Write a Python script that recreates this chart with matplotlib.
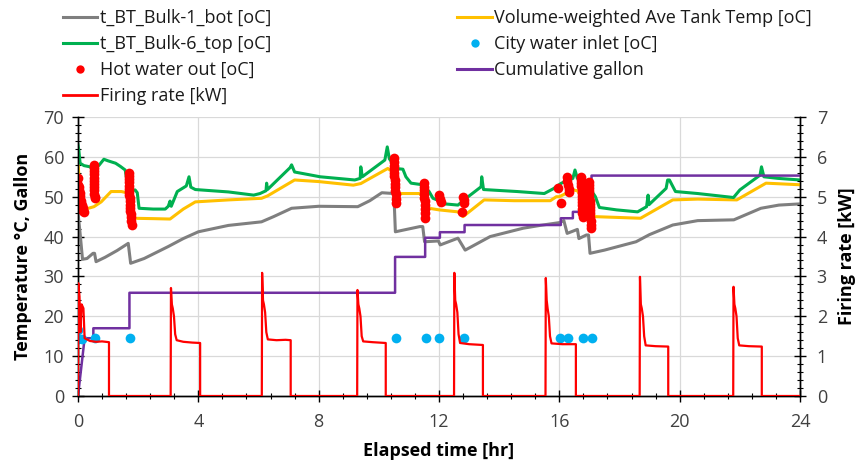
import matplotlib
matplotlib.use("Agg")
import matplotlib.pyplot as plt
from matplotlib.ticker import MultipleLocator
from matplotlib.lines import Line2D

plt.rcParams['font.family'] = ['Open Sans', 'DejaVu Sans']

# Tank bottom temperature (t_BT_Bulk-1_bot)
bot_t = [0, 0.08, 0.15, 0.3, 0.5, 0.55, 0.6, 0.9, 1.3, 1.67, 1.75, 2.2, 3.0, 3.5, 4.0, 5.0, 6.1, 6.5,
         7.1, 8.0, 9.3, 9.7, 10.1, 10.5, 10.55, 11.36, 11.46, 11.52, 11.98, 12.04, 12.63, 12.87, 13.7,
         14.8, 15.36, 16.0, 16.15, 16.26, 16.5, 16.6, 16.65, 16.9, 16.97, 17.02, 17.5, 18.55, 19.0,
         19.77, 20.6, 21.8, 22.7, 23.3, 24.0]
bot_c = [46.0, 40.0, 34.3, 34.5, 35.8, 35.8, 33.7, 34.8, 36.5, 38.3, 33.3, 34.5, 37.5, 39.5, 41.2, 42.8,
         43.7, 45.0, 47.1, 47.6, 47.5, 49.0, 51.0, 50.8, 41.2, 42.5, 42.5, 38.7, 38.9, 37.9, 39.6, 36.6,
         40.0, 42.1, 42.8, 43.5, 44.0, 40.8, 41.5, 41.8, 39.5, 40.4, 40.4, 35.8, 36.6, 38.7, 40.5, 42.9,
         44.0, 44.2, 47.1, 47.9, 48.2]

# Tank top temperature (t_BT_Bulk-6_top)
top_t = [0, 0.03, 0.07, 0.2, 0.4, 0.5, 0.7, 0.86, 1.0, 1.25, 1.41, 1.57, 1.68, 1.9, 1.97, 2.03, 2.5,
         2.9, 3.0, 3.06, 3.1, 3.3, 3.6, 3.69, 3.75, 3.9, 5.0, 5.84, 6.05, 6.25, 6.27, 6.3, 7.05, 7.1,
         7.2, 8.05, 9.2, 9.38, 9.4, 9.45, 10.2, 10.28, 10.35, 10.45, 10.55, 10.8, 10.9, 11.07, 11.45,
         11.67, 11.8, 12.0, 12.05, 12.63, 12.9, 13.4, 13.42, 13.48, 14.6, 15.5, 15.8, 16.07, 16.45,
         16.52, 16.6, 17.13, 17.2, 17.33, 17.9, 18.6, 18.9, 18.95, 18.98, 19.55, 19.6, 19.66, 19.86,
         20.6, 21.79, 22.0, 22.67, 22.72, 22.8, 23.27, 24.0]
top_c = [63.0, 61.5, 58.4, 57.8, 57.5, 56.7, 57.9, 59.4, 59.0, 58.4, 57.6, 56.7, 51.3, 51.7, 51.0,
         47.1, 46.9, 46.9, 47.6, 48.9, 47.6, 51.3, 52.7, 55.0, 52.4, 51.8, 51.2, 50.4, 50.8, 51.5,
         53.4, 51.8, 57.3, 58.0, 56.2, 55.0, 54.2, 54.6, 57.5, 55.0, 59.2, 62.5, 59.5, 58.5, 57.1,
         56.9, 55.0, 53.4, 53.0, 51.3, 49.6, 49.0, 48.3, 47.9, 49.6, 52.5, 55.0, 51.8, 51.3, 50.8,
         52.0, 53.4, 54.6, 56.7, 54.6, 50.8, 50.0, 47.3, 46.7, 46.2, 47.5, 50.4, 48.0, 52.1, 54.2,
         54.2, 51.3, 50.8, 49.8, 51.7, 55.4, 57.5, 55.0, 54.6, 54.2]

# Volume-weighted average tank temperature
avg_t = [0, 0.04, 0.18, 0.3, 0.53, 0.77, 1.1, 1.44, 1.62, 1.77, 2.5, 3.06, 3.5, 3.9, 5.0, 6.1, 6.3,
         7.2, 8.0, 9.15, 9.4, 10.3, 10.45, 10.58, 11.36, 11.5, 11.67, 12.0, 12.63, 12.8, 13.5, 14.5,
         15.7, 15.9, 16.0, 16.45, 16.6, 16.9, 17.18, 18.7, 19.77, 20.6, 21.9, 22.87, 24.0]
avg_c = [58.4, 54.2, 46.7, 47.0, 47.5, 48.7, 51.3, 51.3, 51.0, 44.6, 44.5, 44.4, 46.9, 48.7, 49.2,
         49.6, 50.2, 54.2, 53.8, 52.9, 53.3, 57.1, 56.2, 50.8, 50.8, 49.5, 47.1, 46.7, 46.2, 45.0,
         49.2, 49.0, 49.0, 50.0, 50.0, 51.7, 51.5, 48.0, 45.0, 44.6, 49.2, 49.4, 49.2, 53.4, 53.0]

# Hot water outlet temperature during draws
hot_t = [0.0, 0.0, 0.02, 0.03, 0.05, 0.06, 0.08, 0.10, 0.12, 0.15, 0.18, 0.20,
         0.52, 0.52, 0.52, 0.53, 0.53, 0.53, 0.53, 0.54, 0.54, 0.54, 0.55, 0.55,
         1.68, 1.68, 1.69, 1.69, 1.70, 1.70, 1.71, 1.71, 1.72, 1.72, 1.73, 1.73, 1.74, 1.75, 1.76,
         1.77, 1.78,
         10.50, 10.50, 10.51, 10.51, 10.52, 10.52, 10.53, 10.53, 10.54, 10.55, 10.56, 10.57, 10.58,
         11.50, 11.50, 11.51, 11.51, 11.51, 11.52, 11.52, 11.52, 11.53, 11.53,
         12.01, 12.03, 12.05, 12.76, 12.80, 12.82, 12.84,
         15.97, 16.05, 16.25, 16.27, 16.29, 16.31, 16.33,
         16.72, 16.72, 16.73, 16.73, 16.74, 16.74, 16.75, 16.75, 16.76, 16.76, 16.77, 16.77, 16.78,
         16.98, 16.98, 16.99, 16.99, 17.00, 17.00, 17.01, 17.01, 17.02, 17.02, 17.03, 17.03, 17.04,
         17.05, 17.05]
hot_c = [54.7, 53.0, 52.5, 51.8, 51.0, 50.2, 49.5, 48.8, 48.0, 47.2, 46.5, 46.2,
         58.0, 57.2, 56.4, 55.6, 54.8, 54.0, 53.2, 52.4, 51.6, 50.8, 50.0, 49.6,
         56.0, 55.2, 54.4, 53.6, 52.8, 52.0, 51.2, 50.4, 49.6, 48.8, 48.0, 47.2, 46.4, 45.6, 44.8,
         44.0, 42.8,
         59.6, 58.7, 57.8, 56.9, 56.0, 55.1, 54.2, 53.3, 52.4, 51.5, 50.6, 49.5, 48.3,
         53.4, 52.5, 51.6, 50.7, 49.8, 48.9, 48.0, 47.0, 46.0, 44.6,
         50.4, 49.5, 48.7, 46.2, 50.0, 49.2, 48.3,
         52.1, 48.5, 55.0, 54.0, 53.0, 52.0, 51.3,
         55.0, 54.2, 53.4, 52.6, 51.8, 51.0, 50.2, 49.4, 48.6, 47.8, 47.0, 46.0, 45.0,
         53.8, 53.0, 52.2, 51.4, 50.6, 49.8, 49.0, 48.2, 47.4, 46.6, 45.8, 45.0, 44.0, 43.0, 42.1]

# City water inlet temperature
city_t = [0.0, 0.0, 0.12, 0.57, 1.73, 10.57, 11.57, 12.0, 12.84, 16.02, 16.3, 16.8, 17.08]
city_c = [16.5, 14.2, 14.3, 14.5, 14.5, 14.6, 14.6, 14.6, 14.6, 14.6, 14.6, 14.6, 14.6]

# Cumulative draw volume
gal_t = [0, 0.22, 0.51, 0.51, 1.71, 1.71, 10.54, 10.54, 11.54, 11.54, 12.03, 12.03, 12.85, 12.85,
         16.05, 16.05, 16.45, 16.45, 17.07, 17.07, 24.0]
gal_v = [0, 14.5, 14.5, 17.0, 17.0, 25.9, 25.9, 34.9, 34.9, 39.7, 39.7, 41.1, 41.1, 42.9, 42.9,
         44.6, 44.6, 46.2, 46.2, 55.3, 55.3]

# Burner firing rate
fire_t = [0, 0.01, 0.05, 0.08, 0.12, 0.18, 0.22, 0.4, 0.6, 0.8, 1.03, 1.03,
          3.08, 3.09, 3.12, 3.15, 3.19, 3.23, 3.28, 3.5, 3.8, 4.06, 4.06,
          6.11, 6.12, 6.15, 6.18, 6.22, 6.26, 6.31, 6.6, 6.9, 7.07, 7.07,
          9.28, 9.29, 9.32, 9.35, 9.39, 9.43, 9.48, 9.8, 10.23, 10.23,
          12.5, 12.51, 12.54, 12.57, 12.61, 12.65, 12.7, 13.0, 13.46, 13.46,
          15.54, 15.55, 15.58, 15.61, 15.65, 15.69, 15.74, 16.1, 16.55, 16.55,
          18.67, 18.68, 18.71, 18.74, 18.78, 18.82, 18.87, 19.2, 19.62, 19.62,
          21.78, 21.79, 21.82, 21.85, 21.89, 21.93, 21.98, 22.3, 22.73, 22.73, 24.0]
fire_kw = [0, 2.83, 2.5, 1.6, 2.3, 2.2, 1.45, 1.38, 1.36, 1.37, 1.35, 0,
           0, 2.71, 2.3, 2.2, 2.0, 1.55, 1.40, 1.36, 1.34, 1.33, 0,
           0, 3.09, 2.4, 2.3, 2.1, 1.6, 1.42, 1.40, 1.41, 1.40, 0,
           0, 2.66, 2.3, 2.2, 2.0, 1.5, 1.37, 1.35, 1.33, 0,
           0, 3.09, 2.4, 2.3, 2.1, 1.55, 1.33, 1.30, 1.28, 0,
           0, 2.96, 2.4, 2.2, 2.0, 1.5, 1.32, 1.30, 1.30, 0,
           0, 2.99, 2.3, 2.2, 2.0, 1.5, 1.27, 1.25, 1.24, 0,
           0, 2.74, 2.3, 2.2, 2.0, 1.45, 1.27, 1.25, 1.24, 0, 0]

c_bot, c_top, c_avg = '#7f7f7f', '#00b050', '#ffc000'
c_hot, c_city, c_gal, c_fire = '#ff0000', '#00b0f0', '#7030a0', '#ff0000'
tick_col = '#404040'

fig = plt.figure(figsize=(8.59, 4.65), dpi=100)
ax = fig.add_axes([78 / 859, 69 / 465, 722 / 859, 279 / 465])
ax2 = ax.twinx()

ax.plot(bot_t, bot_c, color=c_bot, lw=2.2, zorder=3)
ax.plot(avg_t, avg_c, color=c_avg, lw=2.2, zorder=3)
ax.plot(top_t, top_c, color=c_top, lw=2.2, zorder=3)
ax.plot(gal_t, gal_v, color=c_gal, lw=1.8, zorder=4)
ax.plot(city_t, city_c, 'o', color=c_city, ms=7, mec='none', zorder=5)
ax.plot(hot_t, hot_c, 'o', color=c_hot, ms=7, mec='none', zorder=6)
ax2.plot(fire_t, fire_kw, color=c_fire, lw=1.6, zorder=3)

ax.set_xlim(0, 24)
ax.set_ylim(0, 70)
ax2.set_ylim(0, 7)
ax.xaxis.set_major_locator(MultipleLocator(4))
ax.xaxis.set_minor_locator(MultipleLocator(0.8))
ax.yaxis.set_major_locator(MultipleLocator(10))
ax.yaxis.set_minor_locator(MultipleLocator(2))
ax2.yaxis.set_major_locator(MultipleLocator(1))
ax2.yaxis.set_minor_locator(MultipleLocator(0.2))

ax.grid(True, which='major', color='#d9d9d9', lw=0.9)
ax.set_axisbelow(True)
for a in (ax, ax2):
    a.spines['top'].set_visible(False)
    for s in ('left', 'right', 'bottom'):
        a.spines[s].set_color('black')
        a.spines[s].set_linewidth(1.0)
    a.tick_params(which='major', direction='inout', length=8, width=1, color='black',
                  labelsize=13, labelcolor=tick_col)
    a.tick_params(which='minor', direction='inout', length=5, width=0.8, color='black')
ax.tick_params(axis='y', pad=6)
ax.tick_params(axis='x', pad=8)
ax2.tick_params(axis='y', pad=8)

ax.set_xlabel('Elapsed time [hr]', fontsize=13, fontweight='bold', labelpad=8)
ax.set_ylabel('Temperature °C, Gallon', fontsize=13, fontweight='bold', labelpad=8)
ax2.set_ylabel('Firing rate [kW]', fontsize=13, fontweight='bold', labelpad=8)

handles = [
    Line2D([], [], color=c_bot, lw=2.2),
    Line2D([], [], color=c_top, lw=2.2),
    Line2D([], [], color=c_hot, ls='none', marker='o', ms=6, mec='none'),
    Line2D([], [], color=c_fire, lw=2),
    Line2D([], [], color=c_avg, lw=2.2),
    Line2D([], [], color=c_city, ls='none', marker='o', ms=6, mec='none'),
    Line2D([], [], color=c_gal, lw=2.2),
]
labels = ['t_BT_Bulk-1_bot [oC]', 't_BT_Bulk-6_top [oC]', 'Hot water out [oC]', 'Firing rate [kW]',
          'Volume-weighted Ave Tank Temp [oC]', 'City water inlet [oC]', 'Cumulative gallon']
fig.legend(handles, labels, loc='upper left', bbox_to_anchor=(63 / 859, 1 - 9 / 465), ncol=2,
           frameon=False, fontsize=13, labelspacing=0.45, handlelength=1.9, handletextpad=0.15,
           columnspacing=10.3, borderpad=0, borderaxespad=0, labelcolor='#1a1a1a')

fig.savefig('out.png', dpi=100)
